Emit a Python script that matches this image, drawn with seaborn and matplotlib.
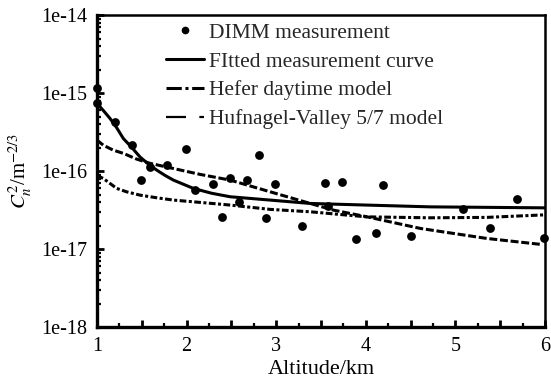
import numpy as np
import pandas as pd
import matplotlib
matplotlib.use("Agg")
import matplotlib.pyplot as plt
import matplotlib.ticker as mticker
from matplotlib.lines import Line2D
import seaborn as sns

# DIMM measurements: altitude (km) and Cn^2 (m^-2/3)
dimm_alt = [1.0, 1.0, 1.20, 1.39, 1.49, 1.59, 1.78, 1.99, 2.09, 2.29, 2.39, 2.49,
            2.59, 2.68, 2.81, 2.89, 2.99, 3.29, 3.55, 3.58, 3.73, 3.89, 4.11,
            4.19, 4.50, 5.09, 5.39, 5.69, 5.99]
dimm_cn2 = [1.18e-15, 7.45e-16, 4.25e-16, 2.15e-16, 7.7e-17, 1.13e-16, 1.19e-16,
            1.91e-16, 5.7e-17, 6.8e-17, 2.6e-17, 8.1e-17, 4.0e-17, 7.7e-17,
            1.6e-16, 2.5e-17, 6.8e-17, 2.0e-17, 7.0e-17, 3.6e-17, 7.3e-17,
            1.34e-17, 1.6e-17, 6.6e-17, 1.47e-17, 3.3e-17, 1.87e-17, 4.4e-17,
            1.4e-17]

# Fitted measurement curve
fit_alt = [1.0, 1.07, 1.145, 1.22, 1.294, 1.39, 1.48, 1.57, 1.667, 1.76, 1.853,
           2.076, 2.28, 2.486, 2.933, 3.38, 3.75, 4.72, 6.0]
fit_cn2 = [7.4e-16, 6.0e-16, 4.74e-16, 3.6e-16, 2.62e-16, 2.0e-16, 1.52e-16,
           1.24e-16, 1.03e-16, 8.8e-17, 7.67e-17, 6.0e-17, 5.2e-17, 4.69e-17,
           4.25e-17, 3.85e-17, 3.74e-17, 3.48e-17, 3.38e-17]

# Hefer daytime model
hefer_alt = [1.0, 1.07, 1.145, 1.22, 1.33, 1.48, 1.667, 1.853, 2.15, 2.486,
             2.933, 3.38, 4.01, 4.72, 5.35, 6.0]
hefer_cn2 = [8.8e-17, 8.05e-17, 6.95e-17, 6.0e-17, 5.43e-17, 4.92e-17, 4.55e-17,
             4.25e-17, 3.97e-17, 3.67e-17, 3.23e-17, 3.01e-17, 2.59e-17,
             2.52e-17, 2.55e-17, 2.75e-17]

# Hufnagel-Valley 5/7 model
hv_alt = [1.0, 1.07, 1.18, 1.294, 1.44, 1.59, 1.853, 2.15, 2.486, 2.933, 3.38,
          3.64, 4.01, 4.61, 5.35, 5.95]
hv_cn2 = [2.5e-16, 2.15e-16, 1.86e-16, 1.69e-16, 1.43e-16, 1.26e-16, 1.08e-16,
          9.08e-17, 7.67e-17, 5.43e-17, 3.85e-17, 3.16e-17, 2.6e-17, 1.84e-17,
          1.37e-17, 1.15e-17]

labels = ["DIMM measurement", "FItted measurement curve",
          "Hefer daytime model", "Hufnagel-Valley 5/7 model"]
x_ticks = [1, 1.5, 2, 2.5, 3, 3.5, 4, 4.5, 5, 5.5, 6]
y_ticks = [1e-18, 1e-17, 1e-16, 1e-15, 1e-14]

sns.set_theme(style="ticks")
plt.rcParams["font.family"] = ["Liberation Serif", "DejaVu Serif"]
plt.rcParams["mathtext.fontset"] = "stix"

fig = plt.figure(figsize=(5.51, 3.88), dpi=100)
ax = fig.add_axes([0.176, 0.157, 0.813, 0.804])

LW = 2.2
dimm = pd.DataFrame({"alt": dimm_alt, "cn2": dimm_cn2})
sns.scatterplot(data=dimm, x="alt", y="cn2", ax=ax, color="black", s=40,
                edgecolor="black", linewidth=0, clip_on=False, zorder=4)

sns.lineplot(x=fit_alt, y=fit_cn2, ax=ax, color="black", lw=LW, sort=False,
             estimator=None)
sns.lineplot(x=hefer_alt, y=hefer_cn2, ax=ax, color="black", lw=LW, sort=False,
             estimator=None, linestyle=(0, (2.2, 0.8, 1.0, 0.8)))
sns.lineplot(x=hv_alt, y=hv_cn2, ax=ax, color="black", lw=LW, sort=False,
             estimator=None, linestyle=(0, (2.6, 0.9)))

ax.set_yscale("log")
ax.set_xlim(1, 6)
ax.set_ylim(1e-18, 1e-14)

ax.xaxis.set_major_locator(mticker.FixedLocator(x_ticks))
ax.xaxis.set_minor_locator(mticker.FixedLocator(
    [t + 0.25 for t in x_ticks[:-1]]))
ax.xaxis.set_major_formatter(mticker.FuncFormatter(
    lambda v, p: f"{int(round(v))}" if abs(v - round(v)) < 1e-6 else ""))
ax.yaxis.set_major_locator(mticker.FixedLocator(y_ticks))
ax.yaxis.set_minor_locator(mticker.FixedLocator(
    [m * t for t in y_ticks[:-1] for m in range(2, 10)]))
ax.yaxis.set_major_formatter(mticker.FuncFormatter(
    lambda v, p: f"1e{int(round(np.log10(v)))}"))
ax.yaxis.set_minor_formatter(mticker.NullFormatter())

ax.tick_params(which="both", direction="in", color="black", labelcolor="black",
               top=False, right=False)
ax.tick_params(which="major", length=5, width=2, labelsize=14.5, pad=7)
ax.tick_params(which="minor", length=3, width=1.6)

for side in ["left", "bottom"]:
    ax.spines[side].set_linewidth(2.4)
for side in ["top", "right"]:
    ax.spines[side].set_linewidth(1.8)
for s in ax.spines.values():
    s.set_color("black")

ax.set_xlabel("Altitude/km", fontsize=16, color="black", labelpad=3)
ax.set_ylabel(r"$C_n^2$/m$^{-2/3}$", fontsize=15, color="black", labelpad=5)

handles = [
    Line2D([], [], color="black", marker="o", markersize=4.5, linestyle="none"),
    Line2D([], [], color="black", lw=LW),
    Line2D([], [], color="black", lw=LW, linestyle=(0, (5, 1.2, 1, 1.2))),
    Line2D([], [], color="black", lw=1.6, linestyle=(0, (9, 6))),
]
ax.legend(handles, labels, loc="upper left", bbox_to_anchor=(0.155, 0.975),
          frameon=False, fontsize=15.5, handlelength=1.75, handletextpad=0.25,
          labelspacing=0.4, borderpad=0, borderaxespad=0)

fig.savefig("out.png", dpi=100)
